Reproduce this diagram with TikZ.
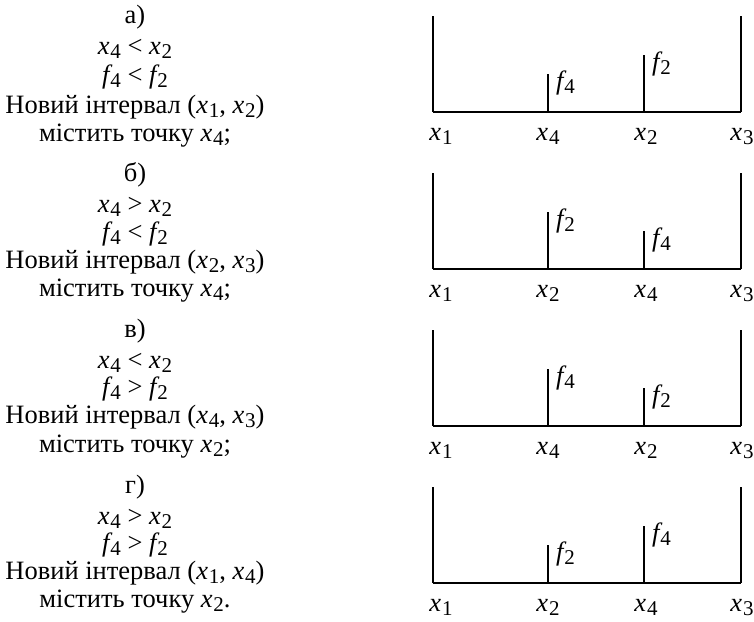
\documentclass[tikz,border=0pt]{standalone}
\usepackage{fontspec}
\setmainfont{Liberation Serif}
\newfontfamily\varfont{Liberation Serif Italic}
\usetikzlibrary{positioning}
\newcommand{\ix}[2]{{\varfont #1}\kern0.03em\raisebox{-0.16em}{\fontsize{21}{21}\selectfont #2}}

\begin{document}
\begin{tikzpicture}[
      x=1pt, y=-1pt,
      font=\fontsize{26.5}{31}\selectfont,
      txt/.style ={anchor=base, inner sep=0pt},
      xlab/.style={anchor=base, inner sep=0pt},
      flab/.style={anchor=base west, inner sep=0pt},
      wall/.style={line width=2pt},
      axis/.style={line width=2.4pt},
      tick/.style={line width=2pt}
    ]
    \useasboundingbox (0,0) rectangle (754,621);

    % --- Texto a) ---
    \node[txt] (ta_head) at (135,23)  {а)};
    \node[txt] (ta_x)    at (135,54)  {\ix{x}{4} < \ix{x}{2}};
    \node[txt] (ta_f)    at (135,83)  {\ix{f}{4} < \ix{f}{2}};
    \node[txt] (ta_int)  at (135,113) {Новий інтервал (\ix{x}{1}, \ix{x}{2})};
    \node[txt] (ta_pt)   at (135,141) {містить точку \ix{x}{4};};

    % --- Texto b) ---
    \node[txt] (tb_head) at (135,181) {б)};
    \node[txt] (tb_x)    at (135,212) {\ix{x}{4} > \ix{x}{2}};
    \node[txt] (tb_f)    at (135,240) {\ix{f}{4} < \ix{f}{2}};
    \node[txt] (tb_int)  at (135,268) {Новий інтервал (\ix{x}{2}, \ix{x}{3})};
    \node[txt] (tb_pt)   at (135,296) {містить точку \ix{x}{4};};

    % --- Texto v) ---
    \node[txt] (tc_head) at (135,337) {в)};
    \node[txt] (tc_x)    at (135,368) {\ix{x}{4} < \ix{x}{2}};
    \node[txt] (tc_f)    at (135,395) {\ix{f}{4} > \ix{f}{2}};
    \node[txt] (tc_int)  at (135,423) {Новий інтервал (\ix{x}{4}, \ix{x}{3})};
    \node[txt] (tc_pt)   at (135,452) {містить точку \ix{x}{2};};

    % --- Texto g) ---
    \node[txt] (td_head) at (135,493) {г)};
    \node[txt] (td_x)    at (135,524) {\ix{x}{4} > \ix{x}{2}};
    \node[txt] (td_f)    at (135,551) {\ix{f}{4} > \ix{f}{2}};
    \node[txt] (td_int)  at (135,579) {Новий інтервал (\ix{x}{1}, \ix{x}{4})};
    \node[txt] (td_pt)   at (135,607) {містить точку \ix{x}{2}.};

    % ================= ESQUEMAS =================

    % --- Esquema a) (y=112) ---
    \coordinate (pa_1) at (433,112);
    \coordinate (pa_4) at (548,112);
    \coordinate (pa_2) at (644,112);
    \coordinate (pa_3) at (741,112);
    \draw[axis] (pa_1) -- (pa_3);
    \draw[wall] (pa_1) -- ++(0,-96);
    \draw[wall] (pa_3) -- ++(0,-96);
    \draw[tick] (pa_4) -- ++(0,-38);
    \draw[tick] (pa_2) -- ++(0,-57);
    \node[flab] (fa_4) at (556,89) {\ix{f}{4}};
    \node[flab] (fa_2) at (652,70) {\ix{f}{2}};
    \node[xlab] (la_1) at (441,140) {\ix{x}{1}};
    \node[xlab] (la_4) at (548,140) {\ix{x}{4}};
    \node[xlab] (la_2) at (646,140) {\ix{x}{2}};
    \node[xlab] (la_3) at (742,140) {\ix{x}{3}};

    % --- Esquema b) (y=269) ---
    \coordinate (pb_1) at (433,269);
    \coordinate (pb_2) at (548,269);
    \coordinate (pb_4) at (644,269);
    \coordinate (pb_3) at (741,269);
    \draw[axis] (pb_1) -- (pb_3);
    \draw[wall] (pb_1) -- ++(0,-96);
    \draw[wall] (pb_3) -- ++(0,-96);
    \draw[tick] (pb_2) -- ++(0,-57);
    \draw[tick] (pb_4) -- ++(0,-38);
    \node[flab] (fb_2) at (556,227) {\ix{f}{2}};
    \node[flab] (fb_4) at (652,246) {\ix{f}{4}};
    \node[xlab] (lb_1) at (441,297) {\ix{x}{1}};
    \node[xlab] (lb_2) at (548,297) {\ix{x}{2}};
    \node[xlab] (lb_4) at (646,297) {\ix{x}{4}};
    \node[xlab] (lb_3) at (742,297) {\ix{x}{3}};

    % --- Esquema v) (y=426) ---
    \coordinate (pc_1) at (433,426);
    \coordinate (pc_4) at (548,426);
    \coordinate (pc_2) at (644,426);
    \coordinate (pc_3) at (741,426);
    \draw[axis] (pc_1) -- (pc_3);
    \draw[wall] (pc_1) -- ++(0,-96);
    \draw[wall] (pc_3) -- ++(0,-96);
    \draw[tick] (pc_4) -- ++(0,-57);
    \draw[tick] (pc_2) -- ++(0,-38);
    \node[flab] (fc_4) at (556,384) {\ix{f}{4}};
    \node[flab] (fc_2) at (652,403) {\ix{f}{2}};
    \node[xlab] (lc_1) at (441,454) {\ix{x}{1}};
    \node[xlab] (lc_4) at (548,454) {\ix{x}{4}};
    \node[xlab] (lc_2) at (646,454) {\ix{x}{2}};
    \node[xlab] (lc_3) at (742,454) {\ix{x}{3}};

    % --- Esquema g) (y=583) ---
    \coordinate (pd_1) at (433,583);
    \coordinate (pd_2) at (548,583);
    \coordinate (pd_4) at (644,583);
    \coordinate (pd_3) at (741,583);
    \draw[axis] (pd_1) -- (pd_3);
    \draw[wall] (pd_1) -- ++(0,-96);
    \draw[wall] (pd_3) -- ++(0,-96);
    \draw[tick] (pd_2) -- ++(0,-38);
    \draw[tick] (pd_4) -- ++(0,-57);
    \node[flab] (fd_2) at (556,560) {\ix{f}{2}};
    \node[flab] (fd_4) at (652,541) {\ix{f}{4}};
    \node[xlab] (ld_1) at (441,611) {\ix{x}{1}};
    \node[xlab] (ld_2) at (548,611) {\ix{x}{2}};
    \node[xlab] (ld_4) at (646,611) {\ix{x}{4}};
    \node[xlab] (ld_3) at (742,611) {\ix{x}{3}};

  \end{tikzpicture}
\end{document}
